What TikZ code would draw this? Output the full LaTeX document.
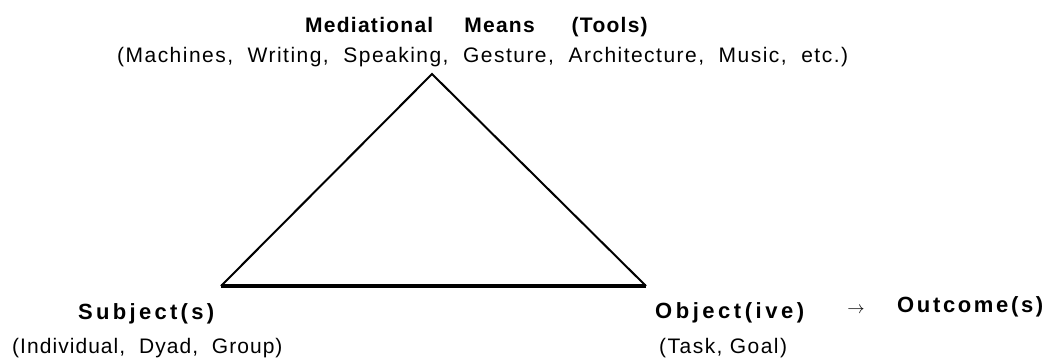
\documentclass[tikz,border=0pt]{standalone}
\usepackage{fontspec}
\setmainfont{Liberation Sans}
\begin{document}
\begin{tikzpicture}[x=1pt,y=-1pt,
  txt/.style={inner sep=0pt, anchor=base west},
  head/.style={txt, font=\fontsize{21}{24}\selectfont\bfseries\addfontfeature{LetterSpace=6}},
  headsp/.style={txt, font=\fontsize{22}{24}\selectfont\bfseries\addfontfeature{LetterSpace=15}},
  sub/.style={txt, font=\fontsize{21}{24}\selectfont\addfontfeature{LetterSpace=7}},
  side/.style={line width=2pt, line join=miter},
  base/.style={line width=3.5pt}]
\useasboundingbox (0,0) rectangle (1054,357);
\coordinate (apex) at (432,74);
\coordinate (sl) at (221,286);
\coordinate (sr) at (646,286);
\draw[side] (sl) -- (apex) -- (sr);
\draw[base] (sl) -- (sr);
\node[head] (tools) at (305,32) {Mediational\hspace{31pt}Means\hspace{37pt}(Tools)};
\node[sub] (toolsx) at (117,62) {(Machines,\ \ Writing,\ \ Speaking,\ \ Gesture,\ \ Architecture,\ \ Music,\ \ etc.)};
\node[headsp] (subj) at (78,319) {Subject(s)};
\node[sub, font=\fontsize{21}{24}\selectfont\addfontfeature{LetterSpace=5}] (subjx) at (12,353) {(Individual,\ \ Dyad,\ \ Group)};
\node[headsp, font=\fontsize{22}{24}\selectfont\bfseries\addfontfeature{LetterSpace=16}] (obj) at (655,318) {Object(ive)};
\node[sub] (objx) at (659,353) {(Task,\ Goal)};
\node[inner sep=0pt, font=\fontsize{16}{18}\selectfont] (arr) at (856,310) {$\rightarrow$};
\node[headsp, font=\fontsize{22}{24}\selectfont\bfseries\addfontfeature{LetterSpace=12}] (out) at (897,312) {Outcome(s)};
\end{tikzpicture}
\end{document}
